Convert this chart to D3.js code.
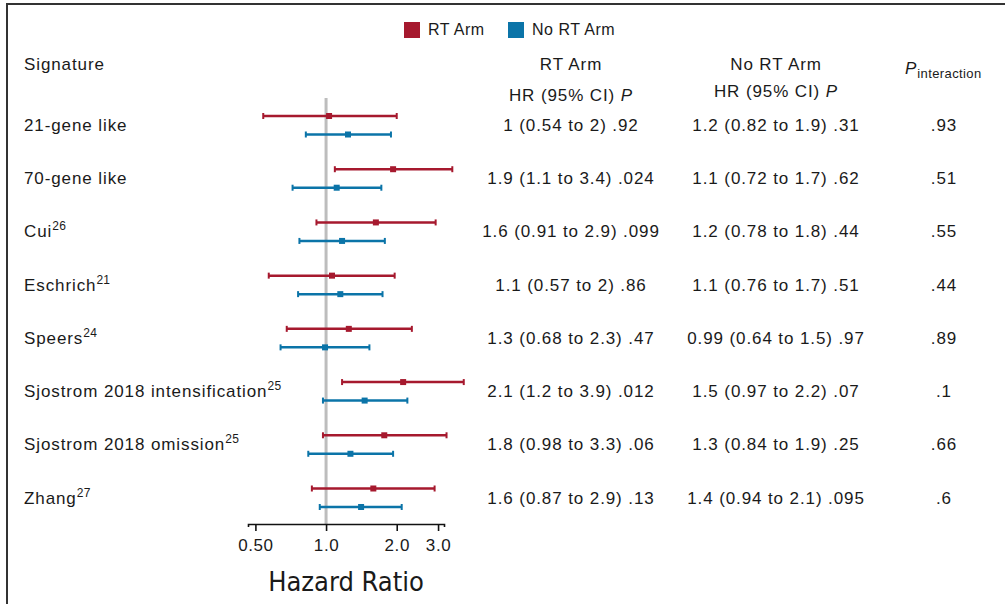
<html>
<head>
<script src="https://d3js.org/d3.v7.min.js"></script>
<style>
    body { margin: 0; background: white; }
    text { font-family: "Liberation Sans", Arial, sans-serif; fill: #1a1a1a; }
    .cell { font-size: 17px; letter-spacing: 0.9px; }
    .axis text { font-size: 17px; letter-spacing: 0.6px; }
    .axis-title { font-family: "Liberation Sans Narrow", "DejaVu Sans Condensed", sans-serif; font-size: 27px; }
</style>
</head>
<body>
<svg id="forest" width="1005" height="604"></svg>
<script>
// ---- data ----
const signatures = ["21-gene like", "70-gene like", "Cui", "Eschrich", "Speers",
    "Sjostrom 2018 intensification", "Sjostrom 2018 omission", "Zhang"];
const refs = ["", "", "26", "21", "24", "25", "25", "27"];

// RT arm
const rtHR = [1.03, 1.93, 1.63, 1.06, 1.25, 2.13, 1.77, 1.59];
const rtLo = [0.54, 1.09, 0.91, 0.57, 0.68, 1.17, 0.97, 0.87];
const rtHi = [2.0, 3.45, 2.93, 1.96, 2.32, 3.86, 3.26, 2.9];
// No RT arm
const noHR = [1.24, 1.11, 1.17, 1.15, 0.99, 1.46, 1.27, 1.41];
const noLo = [0.82, 0.72, 0.77, 0.76, 0.64, 0.97, 0.84, 0.94];
const noHi = [1.89, 1.72, 1.78, 1.74, 1.53, 2.22, 1.93, 2.1];

const rtText = ["1 (0.54 to 2) .92", "1.9 (1.1 to 3.4) .024", "1.6 (0.91 to 2.9) .099", "1.1 (0.57 to 2) .86",
    "1.3 (0.68 to 2.3) .47", "2.1 (1.2 to 3.9) .012", "1.8 (0.98 to 3.3) .06", "1.6 (0.87 to 2.9) .13"];
const noText = ["1.2 (0.82 to 1.9) .31", "1.1 (0.72 to 1.7) .62", "1.2 (0.78 to 1.8) .44", "1.1 (0.76 to 1.7) .51",
    "0.99 (0.64 to 1.5) .97", "1.5 (0.97 to 2.2) .07", "1.3 (0.84 to 1.9) .25", "1.4 (0.94 to 2.1) .095"];
const pInteraction = [".93", ".51", ".55", ".44", ".89", ".1", ".66", ".6"];

const tickValues = [0.5, 1, 2, 3];
const tickLabels = ["0.50", "1.0", "2.0", "3.0"];

const legendKeys = ["RT Arm", "No RT Arm"];
const colors = ["#a6192e", "#0b74a8"];

// ---- layout ----
const svg = d3.select("#forest");

const x = d3.scaleLog().base(2).domain([0.465, 3.18]).range([248, 444]);
const y = d3.scalePoint().domain(signatures).range([125, 497.5]);
const armOffset = [-9, 9.5];
const axisY = 524;

// frame
svg.append("path")
    .attr("d", "M7,604 V4 H1005")
    .attr("fill", "none")
    .attr("stroke", "#333")
    .attr("stroke-width", 2);

// legend
const legend = svg.append("g");
const legX = [404, 508];
legendKeys.forEach((k, i) => {
    legend.append("rect")
        .attr("x", legX[i]).attr("y", 22)
        .attr("width", 16).attr("height", 16)
        .attr("fill", colors[i]);
    legend.append("text")
        .attr("x", legX[i] + 24).attr("y", 35)
        .style("font-size", "16px")
        .style("letter-spacing", "0.5px")
        .text(k);
});

// headers
svg.append("text").attr("class", "cell").attr("x", 24).attr("y", 70).text("Signature");
svg.append("text").attr("class", "cell").attr("x", 571).attr("y", 70).attr("text-anchor", "middle").text("RT Arm");
svg.append("text").attr("class", "cell").attr("x", 776).attr("y", 70).attr("text-anchor", "middle").text("No RT Arm");

const hr1 = svg.append("text").attr("class", "cell").attr("x", 571).attr("y", 101).attr("text-anchor", "middle");
hr1.append("tspan").text("HR (95% CI) ");
hr1.append("tspan").style("font-style", "italic").text("P");
const hr2 = svg.append("text").attr("class", "cell").attr("x", 776).attr("y", 97).attr("text-anchor", "middle");
hr2.append("tspan").text("HR (95% CI) ");
hr2.append("tspan").style("font-style", "italic").text("P");

const pint = svg.append("text").attr("class", "cell").attr("x", 905).attr("y", 74);
pint.append("tspan").style("font-style", "italic").text("P");
pint.append("tspan").attr("dy", 4).style("font-size", "13px").style("letter-spacing", "0.4px").text("interaction");

// reference line at HR = 1
svg.append("line")
    .attr("x1", x(1)).attr("x2", x(1))
    .attr("y1", 98).attr("y2", axisY)
    .attr("stroke", "#bdbdbd")
    .attr("stroke-width", 3);

// row labels
const labels = svg.selectAll("text.rowlabel").data(signatures)
    .enter().append("text")
    .attr("class", "cell rowlabel")
    .attr("x", 24)
    .attr("y", d => y(d) + 6);
labels.append("tspan").text(d => d);
labels.append("tspan")
    .attr("dy", -7)
    .style("font-size", "12px")
    .style("letter-spacing", "0.3px")
    .text((d, i) => refs[i]);

// value columns
const cols = [[571, rtText], [776, noText], [944, pInteraction]];
cols.forEach(([cx, arr]) => {
    svg.selectAll(null).data(arr)
        .enter().append("text")
        .attr("class", "cell")
        .attr("x", cx)
        .attr("y", (d, i) => y(signatures[i]) + 6)
        .attr("text-anchor", "middle")
        .text(d => d);
});

// error bars
const arms = [
    { hr: rtHR, lo: rtLo, hi: rtHi },
    { hr: noHR, lo: noLo, hi: noHi }
];
arms.forEach((arm, a) => {
    const g = svg.append("g")
        .attr("stroke", colors[a])
        .attr("fill", colors[a]);
    signatures.forEach((s, i) => {
        const cy = y(s) + armOffset[a];
        g.append("line")
            .attr("x1", x(arm.lo[i])).attr("x2", x(arm.hi[i]))
            .attr("y1", cy).attr("y2", cy)
            .attr("stroke-width", 2.5);
        [arm.lo[i], arm.hi[i]].forEach(v => {
            g.append("line")
                .attr("x1", x(v)).attr("x2", x(v))
                .attr("y1", cy - 3).attr("y2", cy + 3)
                .attr("stroke-width", 2);
        });
        g.append("rect")
            .attr("x", x(arm.hr[i]) - 3).attr("y", cy - 3)
            .attr("width", 6).attr("height", 6)
            .attr("stroke", "none");
    });
});

// axis
const axis = svg.append("g")
    .attr("class", "axis")
    .attr("transform", "translate(0," + axisY + ")")
    .call(d3.axisBottom(x)
        .tickValues(tickValues)
        .tickFormat((d, i) => tickLabels[i])
        .tickSize(7)
        .tickSizeOuter(3)
        .tickPadding(8));
axis.selectAll("path, line").attr("stroke", "#111").attr("stroke-width", 1.6);
axis.selectAll("text").attr("fill", "#1a1a1a").style("font-family", "\"Liberation Sans\", Arial, sans-serif");

svg.append("text")
    .attr("class", "axis-title")
    .attr("x", (x.range()[0] + x.range()[1]) / 2)
    .attr("y", 591)
    .attr("text-anchor", "middle")
    .text("Hazard Ratio");
</script>
</body>
</html>
